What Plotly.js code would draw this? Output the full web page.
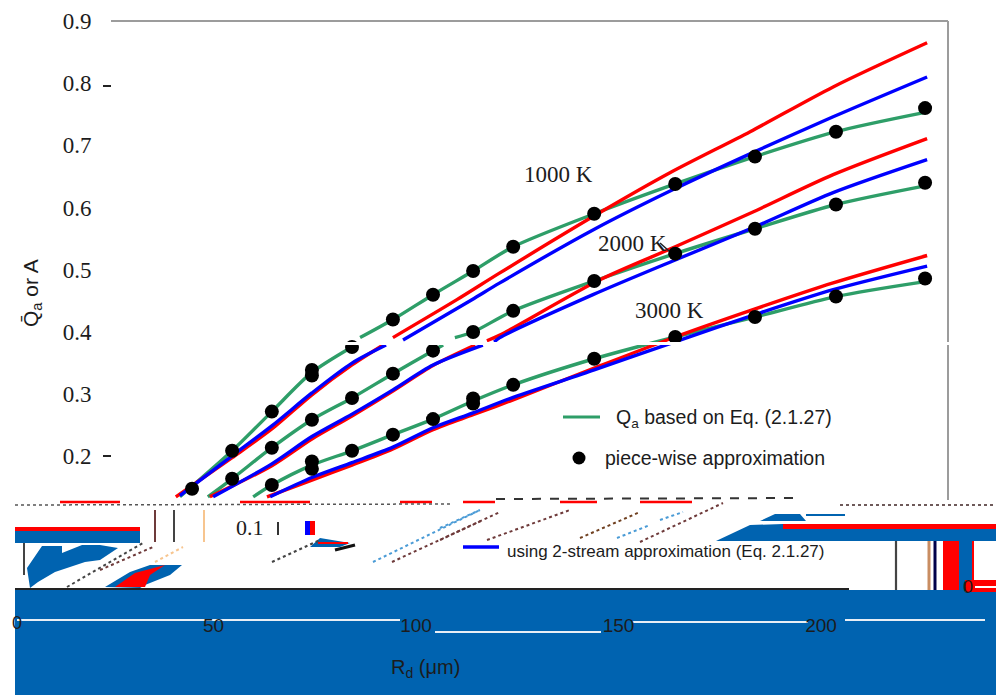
<!DOCTYPE html>
<html>
<head>
<meta charset="utf-8">
<script src="https://cdn.plot.ly/plotly-3.0.1.min.js"></script>
<style>html,body{margin:0;padding:0;background:#fff}#chart{width:996px;height:695px}</style>
</head>
<body>
<div id="chart"></div>
<script>
// ---- values (null = the break the picture shows in the curves) ----
const dotX1000 = [44.7,54.6,64.4,74.3,74.3,84.2,94.3,104.2,114.1,124,144,164,183.7,203.7,225.7];
const dotY1000 = [.148,.209,.272,.330,.339,.376,.420,.460,.498,.537,.590,.638,.682,.722,.760];
const dotX2000 = [54.6,64.4,74.3,84.2,94.3,104.2,114.1,124,144,164,183.7,203.7,225.7];
const dotY2000 = [.164,.214,.259,.294,.333,.370,.400,.434,.482,.526,.566,.605,.640];
const dotX3000 = [64.4,74.3,74.3,84.2,94.3,104.2,114.1,114.1,124,144,164,183.7,203.7,225.7];
const dotY3000 = [.154,.180,.192,.209,.235,.260,.285,.293,.315,.357,.392,.424,.457,.486];

const greenX1000 = [41.7,54.6,64.4,74.3,84.2,null,86.2,94.3,104.2,114.1,124,144,164,183.7,203.7,225.7];
const greenY1000 = [.135,.209,.272,.335,.376,null,.391,.420,.460,.498,.537,.590,.638,.682,.722,.753];
const greenX2000 = [48.6,54.6,64.4,74.3,84.2,94.3,104.2,106.7,null,109.6,114.1,124,144,164,183.7,203.7,225.7];
const greenY2000 = [.135,.164,.214,.259,.294,.333,.370,.379,null,.391,.400,.434,.482,.526,.566,.605,.635];
const greenX3000 = [59.8,64.4,74.3,84.2,94.3,104.2,114.1,124,144,164,183.7,203.7,225.7];
const greenY3000 = [.135,.154,.186,.209,.235,.260,.289,.315,.357,.392,.424,.457,.481];

const blueX1000 = [41.7,54.6,64.4,74.3,84.2,92.6,null,96.8,113.8,120.7,143.7,163.5,183.7,203,226.2];
const blueY1000 = [.137,.201,.249,.302,.350,.379,null,.387,.452,.479,.564,.629,.690,.746,.810];
const redX1000  = [40.7,54.6,64.4,74.3,84.2,91.9,null,94.3,110.1,120.7,145.4,162.7,182.5,203,226.2];
const redY1000  = [.135,.198,.244,.299,.347,.379,null,.391,.452,.495,.592,.656,.722,.794,.865];
const blueX2000 = [49.9,64.4,74.3,84.2,94.3,104.2,116.5,null,119.3,120.7,143.7,165.2,183.7,203,226.2];
const blueY2000 = [.135,.188,.232,.268,.307,.347,.379,null,.384,.391,.460,.519,.569,.624,.677];
const redX2000  = [49.1,64.4,74.3,84.2,94.3,104.2,114.6,null,117.5,120.7,145.4,164,183.2,203,226.2];
const redY2000  = [.135,.185,.228,.265,.305,.346,.379,null,.386,.395,.484,.537,.593,.653,.711];
const blueX3000 = [64,74.3,84.2,94.3,104.2,114.1,123.2,144,165.2,183.7,203,226.2];
const blueY3000 = [.135,.166,.190,.215,.246,.270,.293,.339,.387,.428,.468,.506];
const redX3000  = [63.2,74.3,84.2,94.3,104.2,114.1,123.2,144,164,183.2,203,226.2];
const redY3000  = [.135,.162,.186,.212,.243,.267,.289,.342,.392,.436,.479,.523];

const xTicks = [50,100,150,200];
const yTicks = [0.2,0.3,0.4,0.5,0.6,0.7,0.8,0.9];
const legendNames = ['based on Eq. (2.1.27)','piece-wise approximation','using 2-stream approximation (Eq. 2.1.27)'];

// ---- frame ----
const W=996,H=695,L=111,R=948,T=21,B=589;
const px=x=>(x-L)/(R-L), py=y=>(B-y)/(B-T);
const GREEN='#2e9e68',RED='#ff0000',BLUE='#0000ff',BAND='#0063b0',SERIF='"Liberation Serif",serif',SANS='"Liberation Sans",Arial,sans-serif';

function line(x,y,color,name){return {x,y,name,type:'scatter',mode:'lines',connectgaps:false,line:{color,width:3.4,shape:'spline',smoothing:0.8},showlegend:false,hoverinfo:'skip'};}
function dots(x,y,name){return {x,y,name,type:'scatter',mode:'markers',marker:{color:'#000',size:14},showlegend:false,hoverinfo:'skip'};}
const traces=[
 line(greenX1000,greenY1000,GREEN,'1000 K eq'),line(redX1000,redY1000,RED,'1000 K red'),line(blueX1000,blueY1000,BLUE,'1000 K blue'),
 line(greenX2000,greenY2000,GREEN,'2000 K eq'),line(redX2000,redY2000,RED,'2000 K red'),line(blueX2000,blueY2000,BLUE,'2000 K blue'),
 line(greenX3000,greenY3000,GREEN,'3000 K eq'),line(redX3000,redY3000,RED,'3000 K red'),line(blueX3000,blueY3000,BLUE,'3000 K blue'),
 dots(dotX1000,dotY1000,'1000 K piece-wise'),dots(dotX2000,dotY2000,'2000 K piece-wise'),dots(dotX3000,dotY3000,'3000 K piece-wise')
];

// ---- decoration, all in picture pixels ----
const shapes=[];
function rect(x0,y0,x1,y1,c,layer){shapes.push({type:'rect',xref:'paper',yref:'paper',x0:px(x0),x1:px(x1),y0:py(y0),y1:py(y1),fillcolor:c,line:{width:0},layer:layer||'above'});}
function seg(x0,y0,x1,y1,c,w,dash,layer){shapes.push({type:'line',xref:'paper',yref:'paper',x0:px(x0),x1:px(x1),y0:py(y0),y1:py(y1),line:{color:c,width:w,dash:dash||'solid'},layer:layer||'above'});}
function poly(pts,c){shapes.push({type:'path',xref:'paper',yref:'paper',path:'M'+pts.map(p=>px(p[0])+','+py(p[1])).join(' L')+' Z',fillcolor:c,line:{width:0},layer:'above'});}

seg(111,21,948,21,'#9c9c9c',2);
seg(948,21,948,500,'#9c9c9c',2);
seg(103,86,111,86,'#222',2);
seg(103,456,111,456,'#222',2);
rect(111,342,996,345,'#fff');
seg(660,243,669,251,'#222',1.5);

// lower bands (under the tick labels)
rect(15,590,996,695,BAND,'below');
seg(17,620,400,620,'#e8eef5',2,null,'below');
seg(435,632,601,632,'#e8eef5',2,null,'below');
seg(632,622,808,622,'#e8eef5',2,null,'below');
seg(845,620,985,620,'#e8eef5',2,null,'below');
seg(15,589,849,589,'#222',2);
rect(15,527,140,531,RED); rect(15,531,140,543,BAND);
rect(783,524,996,529,RED); poly([[716,541],[750,525],[783,524],[783,529],[996,529],[996,541]],BAND);
poly([[760,521],[775,514],[800,514],[806,521]],BAND); rect(806,514,845,516,BAND);
// vertical pieces right
seg(896,541,896,590,'#444',2.2); seg(929,541,929,590,'#c98d62',3); seg(935,541,935,590,'#00004a',3);
rect(943,541,959,590,RED); rect(959,541,972,590,BAND); rect(972,541,974,580,RED);
rect(965,580,996,592,RED); seg(975,587,996,587,'#fff',2);
// vertical pieces left
seg(155,510,155,542,'#6e3a3a',2); seg(174,510,174,542,'#444',2); seg(204,510,204,542,'#f7c58f',2);
seg(278,522,278,535,'#333',2); rect(305,521,310,535,BLUE); rect(310,521,315,535,RED);
seg(24,543,24,575,'#444',2);
poly([[30,588],[27,568],[42,546],[62,546],[62,553],[82,545],[100,545],[118,548],[100,560],[85,562],[55,572],[38,582]],BAND);
poly([[105,587],[130,572],[150,565],[182,565],[170,575],[145,585],[140,588]],BAND);
poly([[115,587],[135,573],[165,565],[150,575],[145,587]],RED);
poly([[310,547],[320,538],[350,543],[340,547]],BAND);
seg(318,543,348,543,RED,2); seg(335,550,355,545,'#111',3);
// row fragments
[[60,120],[240,310],[400,432],[463,495],[560,597],[640,692]].forEach(s=>seg(s[0],502,s[1],502,RED,2.5));
seg(496,499,800,498,'#333',2,'dash');
seg(15,505,450,504,'#555',1.5,'dot');
seg(840,505,996,505,'#6e5a5a',2,'dot');
// dotted fragments
[[440,540,483,520,'#6e3a3a'],[487,540,570,510,'#6e3a3a'],[580,538,640,512,'#704020'],[640,542,723,503,'#6e3a3a'],
 [67,587,143,543,'#444'],[100,570,153,547,'#6e3a3a'],[272,562,320,540,'#444'],[392,562,500,512,'#6e3a3a']].forEach(d=>seg(d[0],d[1],d[2],d[3],d[4],2,'dot'));
[[440,528,480,510,'#4a9bd6'],[617,538,650,525,'#4a9bd6'],[660,520,683,512,'#4a9bd6'],[373,562,480,510,'#4a9bd6']].forEach(d=>seg(d[0],d[1],d[2],d[3],d[4],2,'dot'));
seg(155,562,183,547,'#f7c58f',2,'dot');
// legend samples
seg(563,417,600,417,GREEN,3);
shapes.push({type:'circle',xref:'paper',yref:'paper',x0:px(572.5),x1:px(585.5),y0:py(464.5),y1:py(451.5),fillcolor:'#000',line:{width:0},layer:'above'});
seg(463,547,499,547,BLUE,3.5);

function note(x,y,text,size,font,anchor,angle){return {xref:'paper',yref:'paper',x:px(x),y:py(y),text,showarrow:false,xanchor:anchor||'center',yanchor:'middle',textangle:angle||0,font:{family:font,size,color:'#1c1c1c'}};}
const annotations=[
 note(558,174,'1000 K',23,SERIF),
 note(632,243,'2000 K',23,SERIF),
 note(669,310,'3000 K',23,SERIF),
 note(250,527,'0.1',22,SERIF),
 note(17,623,'0',18,SANS),
 note(968,587,'0',18,SANS),
 note(614,418,'Q<sub>a</sub> '+legendNames[0],19.5,SANS,'left'),
 note(603,458,legendNames[1],19.5,SANS,'left'),
 note(505,551,legendNames[2],17,SANS,'left'),
 note(32,293,'Q\u0304<sub>a</sub> or A',21,SANS,'center',-90),
 note(425,668,'R<sub>d</sub> (μm)',20,SANS)
];

const layout={
 width:W,height:H,paper_bgcolor:'#fff',plot_bgcolor:'rgba(0,0,0,0)',showlegend:false,
 margin:{l:L,r:W-R,t:T,b:H-B,pad:0},
 xaxis:{range:[(L-11)/4.05,(R-11)/4.05],tickvals:xTicks,ticks:'outside',ticklen:19,tickcolor:'rgba(0,0,0,0)',showgrid:false,zeroline:false,showline:false,
   tickfont:{family:SANS,size:19,color:'#1c1c1c'}},
 yaxis:{range:[0.9-568/622,0.9],tickvals:yTicks,tickformat:'.1f',ticks:'outside',ticklen:14,tickcolor:'rgba(0,0,0,0)',showgrid:false,zeroline:false,showline:false,
   tickfont:{family:SERIF,size:23,color:'#1c1c1c'}},
 shapes,annotations
};
Plotly.newPlot('chart',traces,layout,{displayModeBar:false,staticPlot:true});
</script>
</body>
</html>
